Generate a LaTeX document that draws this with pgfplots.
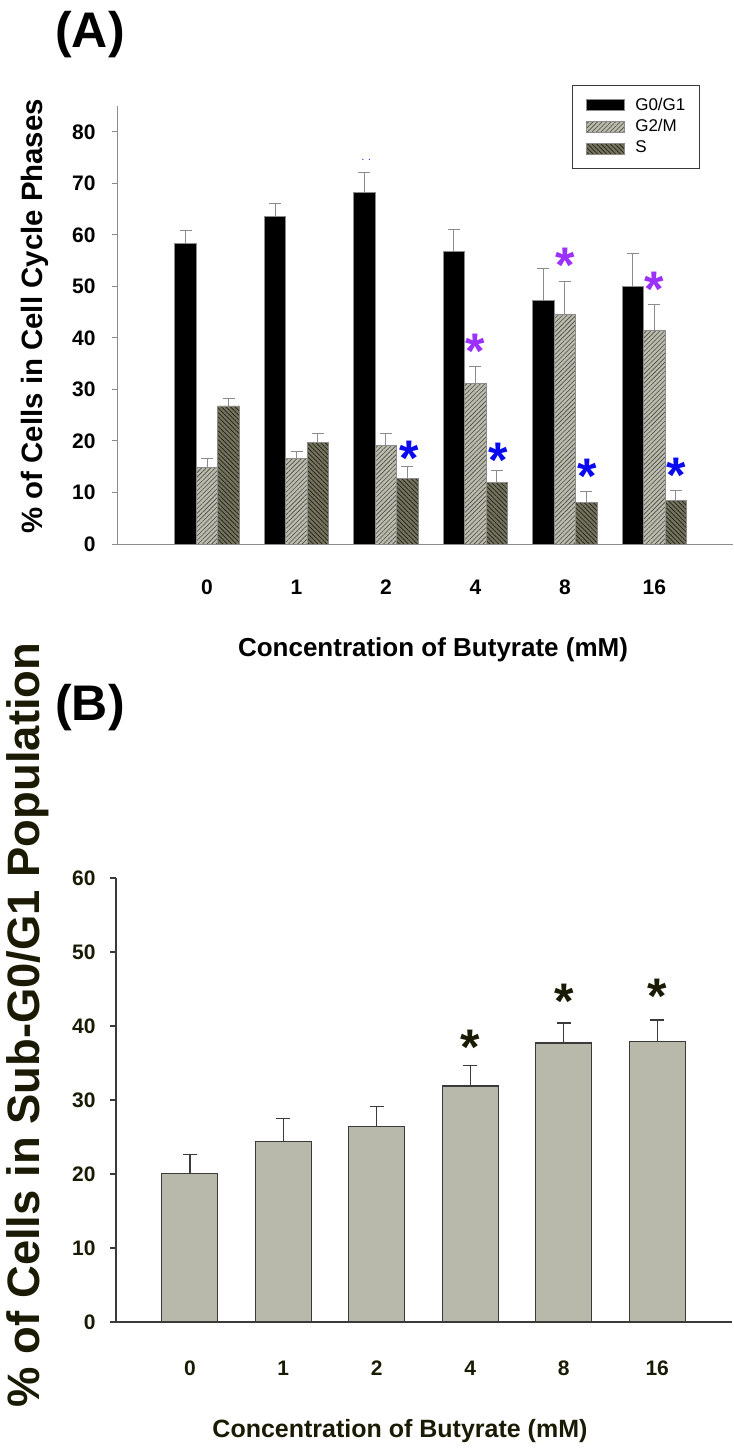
\documentclass[border=0pt]{standalone}
\usepackage{fontspec}
\setmainfont{Liberation Sans}
\usepackage{pgfplots}
\pgfplotsset{compat=1.18}
\usetikzlibrary{patterns.meta}
\definecolor{axgray}{HTML}{8C8C8C}
\definecolor{axdark}{HTML}{3A3A3A}
\definecolor{gtwo}{HTML}{BCBCAC}
\definecolor{gtwoh}{HTML}{464646}
\definecolor{sfill}{HTML}{74745E}
\definecolor{sh}{HTML}{1E1E14}
\definecolor{bfill}{HTML}{B8B8AB}
\definecolor{purp}{HTML}{9B30FF}
\definecolor{blu}{HTML}{0A0AF0}
\definecolor{olv}{HTML}{1A1A05}
\begin{document}
\begin{tikzpicture}
\useasboundingbox (0,0) rectangle (367pt,-724pt);
\node[font=\bfseries\fontsize{25}{30}\selectfont] at (45pt,-17.5pt) {(A)};
\node[font=\bfseries\fontsize{25}{30}\selectfont] at (45pt,-354pt) {(B)};

\begin{axis}[
  at={(58.5pt,-272pt)}, anchor=south west, scale only axis,
  width=308pt, height=219pt,
  xmin=-1.007, xmax=5.88, ymin=0, ymax=85,
  axis x line=bottom, axis y line=left,
  axis line style={draw=axgray, line width=0.5pt, -},
  xtick={0,1,2,3,4,5}, xticklabels={0,1,2,4,8,16},
  x tick style={draw=none},
  ytick={0,10,...,80},
  y tick style={draw=axgray, line width=0.5pt},
  tick align=outside, major tick length=2.5pt,
  /pgf/number format/assume math mode=true,
  tick label style={font=\bfseries\fontsize{10.5}{12}\selectfont},
  xticklabel style={anchor=base, inner sep=0pt, yshift=-22.5pt},
  yticklabel style={anchor=east, inner sep=0pt, xshift=-8pt},
  xlabel={Concentration of Butyrate (mM)},
  ylabel={\% of Cells in Cell Cycle Phases},
  xlabel style={at={(axis description cs:0.513,-0.2420)}, anchor=center, font=\bfseries\fontsize{13}{15}\selectfont},
  ylabel style={at={(axis description cs:-0.1330,0.5200)}, anchor=center, font=\bfseries\fontsize{14.7}{16}\selectfont},
  ybar, bar width=0.24,
  legend style={at={(rel axis cs:0.7386,1.048)}, anchor=north west, draw=axdark, line width=0.5pt,
    font=\fontsize{8.5}{10}\selectfont, inner xsep=7pt, inner ysep=4.5pt,
    nodes={inner xsep=0pt, inner ysep=1.6pt}},
  legend cell align=left,
  legend image code/.code={\draw[#1] (0pt,-2.75pt) rectangle (19pt,2.75pt); \path (24pt,0pt);},
  error bars/y dir=plus, error bars/y explicit,
  error bars/error bar style={draw=axgray, line width=0.5pt},
  error bars/error mark options={rotate=90, mark size=3pt, draw=axgray, line width=0.5pt},
]
\addplot[ybar, bar shift=-0.24, fill=black, draw=axgray, line width=0.4pt]
  coordinates {(0,58.4) +- (0,2.4) (1,63.6) +- (0,2.5) (2,68.2) +- (0,3.9)
               (3,56.8) +- (0,4.3) (4,47.3) +- (0,6.2) (5,50.0) +- (0,6.4)};
\addplot[ybar, bar shift=0, fill=gtwo, draw=axgray, line width=0.4pt,
  postaction={pattern={Lines[angle=45,distance=1.6pt,line width=0.3pt]}, pattern color=gtwoh}]
  coordinates {(0,14.8) +- (0,1.8) (1,16.6) +- (0,1.3) (2,19.1) +- (0,2.4)
               (3,31.1) +- (0,3.3) (4,44.6) +- (0,6.3) (5,41.4) +- (0,5.1)};
\addplot[ybar, bar shift=0.24, fill=sfill, draw=axgray, line width=0.4pt,
  postaction={pattern={Lines[angle=-45,distance=1.6pt,line width=0.35pt]}, pattern color=sh}]
  coordinates {(0,26.8) +- (0,1.4) (1,19.7) +- (0,1.7) (2,12.8) +- (0,2.3)
               (3,12.0) +- (0,2.2) (4,8.1) +- (0,2.0) (5,8.5) +- (0,1.8)};
\legend{G0/G1,G2/M,S}
\begin{scope}[every node/.style={font=\bfseries\fontsize{25}{25}\selectfont, inner sep=0pt, anchor=center, yshift=-0.2em}]
\node[text=blu] at (axis cs:2.26,17.5) {*};
\node[text=blu] at (axis cs:3.25,17.1) {*};
\node[text=blu] at (axis cs:4.25,14.0) {*};
\node[text=blu] at (axis cs:5.25,14.2) {*};
\node[text=purp] at (axis cs:3.0,38.1) {*};
\node[text=purp] at (axis cs:4.0,54.8) {*};
\node[text=purp] at (axis cs:5.0,50.2) {*};
\end{scope}
\node[text=blu, font=\fontsize{5}{5}\selectfont, inner sep=0pt] at (axis cs:1.78,74.6) {. .};
\end{axis}

\begin{axis}[
  at={(58pt,-661pt)}, anchor=south west, scale only axis,
  width=308pt, height=222pt,
  xmin=-0.79, xmax=5.80, ymin=0, ymax=60,
  axis x line=bottom, axis y line=left,
  axis line style={draw=axdark, line width=0.6pt, -},
  xtick={0,1,2,3,4,5}, xticklabels={0,1,2,4,8,16},
  x tick style={draw=none},
  ytick={0,10,...,60},
  y tick style={draw=axdark, line width=0.6pt},
  tick align=outside, major tick length=3pt,
  /pgf/number format/assume math mode=true,
  tick label style={font=\bfseries\fontsize{10.5}{12}\selectfont, text=olv},
  xticklabel style={anchor=base, inner sep=0pt, yshift=-23.75pt},
  yticklabel style={anchor=east, inner sep=0pt, xshift=-7pt},
  xlabel={Concentration of Butyrate (mM)},
  ylabel={\% of Cells in Sub-G0/G1 Population},
  xlabel style={at={(axis description cs:0.461,-0.245)}, anchor=center, font=\bfseries\fontsize{12.5}{15}\selectfont, text=olv},
  ylabel style={at={(axis description cs:-0.144,0.669)}, anchor=center, font=\bfseries\fontsize{22.7}{24}\selectfont, text=olv},
  ybar, bar width=0.6,
  error bars/y dir=plus, error bars/y explicit,
  error bars/error bar style={draw=axdark, line width=0.7pt},
  error bars/error mark options={rotate=90, mark size=3.5pt, draw=axdark, line width=0.7pt},
]
\addplot[ybar, bar shift=0, fill=bfill, draw=axdark, line width=0.6pt]
  coordinates {(0,20.1) +- (0,2.5) (1,24.4) +- (0,3.1) (2,26.4) +- (0,2.7)
               (3,31.9) +- (0,2.8) (4,37.7) +- (0,2.7) (5,37.9) +- (0,2.9)};
\begin{scope}[every node/.style={font=\bfseries\fontsize{25}{25}\selectfont, inner sep=0pt, anchor=center, yshift=-0.2em, text=olv}]
\node at (axis cs:3,37.7) {*};
\node at (axis cs:4,43.9) {*};
\node at (axis cs:5,44.5) {*};
\end{scope}
\end{axis}
\end{tikzpicture}
\end{document}
